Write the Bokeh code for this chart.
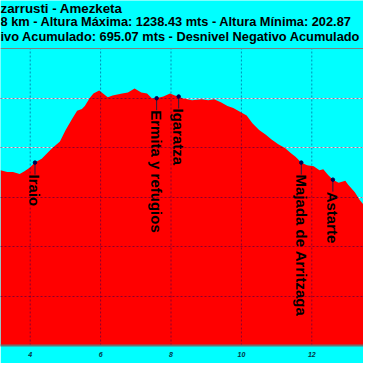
import math
from bokeh.plotting import figure
from bokeh.models import Range1d, FixedTicker, Grid, Label, Span, ColumnDataSource
from bokeh.core.properties import value
from bokeh.embed import file_html
from bokeh.resources import INLINE

# Profile: distance (km) and altitude (m)
dist_km = [3.156, 3.347, 3.510, 3.701, 3.837, 3.973, 4.136, 4.327, 4.599, 4.844,
           5.007, 5.197, 5.333, 5.469, 5.551, 5.687, 5.796, 5.959, 6.068, 6.204,
           6.340, 6.612, 6.776, 6.966, 7.156, 7.320, 7.456, 7.592, 7.782, 7.973,
           8.109, 8.218, 8.327, 8.599, 8.871, 9.061, 9.224, 9.415, 9.605, 9.769,
           9.959, 10.150, 10.313, 10.503, 10.694, 10.857, 11.048, 11.238, 11.401, 11.537,
           11.701, 11.864, 12.054, 12.218, 12.327, 12.463, 12.599, 12.762, 12.952, 13.034,
           13.224, 13.361, 13.469]
altitude_m = [908, 901, 901, 893, 904, 917, 939, 955, 994, 1024,
              1071, 1117, 1148, 1156, 1168, 1199, 1218, 1230, 1218, 1203,
              1210, 1218, 1222, 1238, 1222, 1218, 1199, 1199, 1206, 1218,
              1210, 1206, 1199, 1191, 1195, 1191, 1195, 1183, 1168, 1160,
              1144, 1129, 1098, 1071, 1052, 1032, 1013, 998, 978, 963,
              939, 928, 924, 908, 912, 889, 870, 858, 866, 850,
              819, 788, 769]

# Waypoints
wp_names = ["Iraio", "Ermita y refugios", "Igaratza", "Majada de Arritzaga", "Astarte"]
wp_km = [4.136, 7.592, 8.218, 11.701, 12.599]
wp_alt = [939, 1199, 1206, 939, 870]

x_ticks = [4, 6, 8, 10, 12]
y_grid_ticks = [400, 600, 800, 1000, 1200]
alt_min, alt_max = 200, 1400   # plot-area altitude limits

title_lines = ["zarrusti - Amezketa",
               "8 km - Altura Máxima: 1238.43 mts - Altura Mínima: 202.87",
               "ivo Acumulado: 695.07 mts - Desnivel Negativo Acumulado"]

CYAN = "#00FFFF"
FONT = "Liberation Sans"

W = H = 363
frame_top_px = 48          # top of the profile area, px from top
bottom_border = 18
frame_h = H - bottom_border
px_per_m = (frame_h - frame_top_px) / (alt_max - alt_min)
y_range_end = alt_max + frame_top_px / px_per_m

p = figure(width=W, height=H, output_backend="svg", toolbar_location=None,
           x_range=Range1d(3.156, 13.469), y_range=Range1d(alt_min, y_range_end),
           y_axis_location=None, min_border_left=0, min_border_right=0,
           min_border_top=0, min_border_bottom=bottom_border)
p.background_fill_color = CYAN
p.border_fill_color = CYAN
p.outline_line_color = None
p.xgrid.visible = False

# area
p.varea(x=dist_km, y1=alt_min, y2=altitude_m, fill_color="#FF0000")

# grid lines (on top of the area)
grid_style = dict(line_color="#000060", line_alpha=0.45, line_dash="2 2", line_width=1)
p.segment(x0=x_ticks, y0=alt_min, x1=x_ticks, y1=alt_max, **grid_style)
ygrid = Grid(dimension=1, ticker=FixedTicker(ticks=y_grid_ticks), level="annotation",
             grid_line_color="#000060", grid_line_alpha=0.45, grid_line_dash="2 2")
p.add_layout(ygrid)

# top border line of the profile area
p.add_layout(Span(location=alt_max, dimension="width", line_color="#808080", line_width=1))

# axis
ax = p.xaxis[0]
ax.ticker = FixedTicker(ticks=x_ticks)
ax.major_tick_line_color = None
ax.minor_tick_line_color = None
ax.axis_line_color = "#707070"
ax.axis_line_width = 2
ax.major_label_text_font = FONT
ax.major_label_text_font_size = "7px"
ax.major_label_text_font_style = "bold italic"
ax.major_label_text_color = "#003344"
ax.major_label_standoff = 0

# waypoints
src = ColumnDataSource(dict(x=wp_km, y=wp_alt, name=wp_names))
p.ray(x="x", y="y", length=12, length_units="screen", angle=-math.pi / 2,
      line_color="#202040", line_width=1, source=src)
p.scatter(x="x", y="y", size=3.5, fill_color="#000050", line_color="#000050", source=src)
p.text(x="x", y="y", text="name", angle=-math.pi / 2, y_offset=12,
       text_align="left", text_baseline="alphabetic",
       text_font=value(FONT), text_font_style="bold", text_font_size="15px",
       text_color="black", source=src)

# titles (inside the frame, above the profile area)
title_centers_px = [7.5, 21, 36]
title_sizes = ["13.3px", "12.8px", "12.8px"]
for t, cy, fs in zip(title_lines, title_centers_px, title_sizes):
    p.add_layout(Label(x=3.156, y=y_range_end - cy / px_per_m, x_offset=0,
                       text=t, text_font=FONT, text_font_style="bold",
                       text_font_size=fs, text_color="black",
                       text_baseline="middle", text_align="left"))

open("out.html", "w").write(file_html(p, INLINE))
